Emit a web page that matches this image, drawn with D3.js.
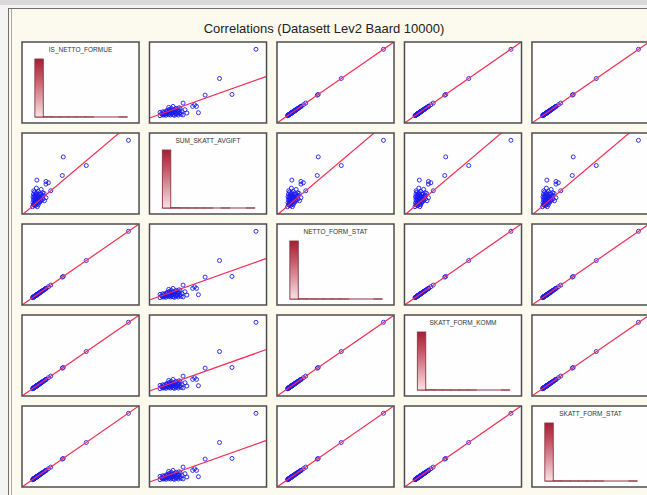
<!DOCTYPE html>
<html>
<head>
<meta charset="utf-8">
<script src="https://cdn.jsdelivr.net/npm/d3@7"></script>
<style>
  body { margin: 0; background: #efefef; }
  svg { display: block; font-family: Arial, 'Liberation Sans', sans-serif; }
</style>
</head>
<body>
<svg id="chart" width="647" height="495"></svg>
<script>
const title = 'Correlations (Datasett Lev2 Baard 10000)'
const variables = ['IS_NETTO_FORMUE', 'SUM_SKATT_AVGIFT', 'NETTO_FORM_STAT', 'SKATT_FORM_KOMM', 'SKATT_FORM_STAT']

// values in 1000 NOK, one entry per plotted point
const isNettoFormue = [48120, 27000, 15000, 15480, 2280, 9240, 8040, 6840, 6840, 4440,
  2040, 696, 6840, 4440, 1560, 1560, 2520, 2520, 3480, 3480,
  4440, 4440, 5400, 5400, 120, 600, 1080, 840, 1320, 1560,
  1800, 1080, 2040, 2280, 2520, 2760, 3000, 3240, 3720, 3960,
  4200, 4920, 5160, 5880, 3000, 360, 600, 1560, 2520, 6120,
  360, 840, 1320, 1800, 2040, 2280, 600, 1080, 2760, 3000,
  3480, 1560, 2040, 3240, 840, 2520]
const sumSkattAvgift = [3240, 2024, 1544, 2440, 1320, 808, 1192, 1128, 1256, 872,
  936, 808, 472, 360, 91, 261, 171, 341, 251, 421,
  334, 504, 414, 584, 40, 136, 200, 328, 424, 552,
  680, 744, 232, 488, 616, 392, 136, 552, 264, 456,
  648, 552, 712, 680, 776, 520, 648, 360, 40, 328,
  232, 488, 584, 296, 424, 712, 392, 104, 264, 520,
  648, 168, 616, 360, 168, 456]
const nettoFormStat = [48010, 26890, 14890, 15370, 2170, 9130, 7930, 6730, 6730, 4330,
  1930, 586, 6730, 4330, 1450, 1450, 2410, 2410, 3370, 3370,
  4330, 4330, 5290, 5290, 10, 490, 970, 730, 1210, 1450,
  1690, 970, 1930, 2170, 2410, 2650, 2890, 3130, 3610, 3850,
  4090, 4810, 5050, 5770, 2890, 250, 490, 1450, 2410, 6010,
  250, 730, 1210, 1690, 1930, 2170, 490, 970, 2650, 2890,
  3370, 1450, 1930, 3130, 730, 2410]
const skattFormKomm = [336.1, 188.2, 104.2, 107.6, 15.2, 63.9, 55.5, 47.1, 47.1, 30.3,
  13.5, 4.1, 47.1, 30.3, 10.2, 10.2, 16.9, 16.9, 23.6, 23.6,
  30.3, 30.3, 37.0, 37.0, 0.1, 3.4, 6.8, 5.1, 8.5, 10.2,
  11.8, 6.8, 13.5, 15.2, 16.9, 18.6, 20.2, 21.9, 25.3, 27.0,
  28.6, 33.7, 35.4, 40.4, 20.2, 1.8, 3.4, 10.2, 16.9, 42.1,
  1.8, 5.1, 8.5, 11.8, 13.5, 15.2, 3.4, 6.8, 18.6, 20.2,
  23.6, 10.2, 13.5, 21.9, 5.1, 16.9]
const skattFormStat = [192.0, 107.6, 59.6, 61.5, 8.7, 36.5, 31.7, 26.9, 26.9, 17.3,
  7.7, 2.3, 26.9, 17.3, 5.8, 5.8, 9.6, 9.6, 13.5, 13.5,
  17.3, 17.3, 21.2, 21.2, 0.0, 2.0, 3.9, 2.9, 4.8, 5.8,
  6.8, 3.9, 7.7, 8.7, 9.6, 10.6, 11.6, 12.5, 14.4, 15.4,
  16.4, 19.2, 20.2, 23.1, 11.6, 1.0, 2.0, 5.8, 9.6, 24.0,
  1.0, 2.9, 4.8, 6.8, 7.7, 8.7, 2.0, 3.9, 10.6, 11.6,
  13.5, 5.8, 7.7, 12.5, 2.9, 9.6]
// how many of the records each point stands for (used by the fit)
const pointWeight = [1, 1, 1, 1, 1, 1, 1, 1, 1, 1,
  1, 1, 1, 1, 990, 990, 990, 990, 990, 990,
  990, 990, 990, 990, 4, 4, 4, 4, 4, 4,
  4, 4, 3, 3, 3, 3, 3, 3, 3, 3,
  3, 3, 3, 3, 3, 3, 3, 3, 3, 3,
  1, 1, 1, 1, 1, 1, 1, 1, 1, 1,
  1, 1, 1, 1, 1, 1]

// histogram bin counts (11 bins, min..max) for the diagonal
const histIsNetto = [9962, 24, 6, 4, 1, 1, 1, 0, 0, 0, 1]
const histSumSkatt = [9948, 35, 9, 3, 2, 1, 0, 1, 0, 0, 1]
const histNettoStat = [9962, 24, 6, 4, 1, 1, 1, 0, 0, 0, 1]
const histKomm = [9963, 23, 6, 4, 1, 1, 1, 0, 0, 0, 1]
const histStat = [9963, 23, 6, 4, 1, 1, 1, 0, 0, 0, 1]

const columns = [isNettoFormue, sumSkattAvgift, nettoFormStat, skattFormKomm, skattFormStat]
const hists = [histIsNetto, histSumSkatt, histNettoStat, histKomm, histStat]

const svg = d3.select('#chart')

// window frame
svg.append('rect').attr('width', 647).attr('height', 495).attr('fill', '#f4f4f4')
svg.append('rect').attr('x', 0).attr('y', 0).attr('width', 647).attr('height', 5).attr('fill', '#d9d9d9')
svg.append('rect')
  .attr('x', 8.5).attr('y', 8.5).attr('width', 700).attr('height', 600)
  .attr('fill', '#fcf9ef').attr('stroke', '#6e6e6e')
svg.append('line')
  .attr('x1', 11.5).attr('x2', 11.5).attr('y1', 9).attr('y2', 495)
  .attr('stroke', '#a8a8a8')

svg.append('text')
  .attr('x', 324).attr('y', 33)
  .attr('text-anchor', 'middle')
  .attr('font-size', '13px')
  .attr('fill', '#222')
  .text(title)

const colBand = d3.scaleBand().domain(d3.range(5)).range([22, 649]).paddingInner(0.082)
const rowBand = d3.scaleBand().domain(d3.range(5)).range([42, 487]).paddingInner(0.11)
const cw = colBand.bandwidth()
const ch = rowBand.bandwidth()

// padded scales for each variable
const xScales = columns.map(vals => {
  const [lo, hi] = d3.extent(vals)
  const pad = (hi - lo) * 0.11
  return d3.scaleLinear().domain([lo - pad, hi + pad]).range([0, cw])
})
const yScales = columns.map(vals => {
  const [lo, hi] = d3.extent(vals)
  const pad = (hi - lo) * 0.11
  return d3.scaleLinear().domain([lo - pad, hi + pad]).range([ch, 0])
})

function weightedFit (xs, ys, ws) {
  const sw = d3.sum(ws)
  const mx = d3.sum(xs, (x, k) => x * ws[k]) / sw
  const my = d3.sum(ys, (y, k) => y * ws[k]) / sw
  let sxy = 0
  let sxx = 0
  xs.forEach((x, k) => {
    sxy += ws[k] * (x - mx) * (ys[k] - my)
    sxx += ws[k] * (x - mx) * (x - mx)
  })
  const slope = sxy / sxx
  return { slope, intercept: my - slope * mx }
}

const defs = svg.append('defs')
const grad = defs.append('linearGradient')
  .attr('id', 'barGrad').attr('x1', 0).attr('x2', 0).attr('y1', 0).attr('y2', 1)
grad.append('stop').attr('offset', '0%').attr('stop-color', '#a51f33')
grad.append('stop').attr('offset', '35%').attr('stop-color', '#c65a6a')
grad.append('stop').attr('offset', '100%').attr('stop-color', '#f6e3e6')

defs.append('clipPath').attr('id', 'cellClip')
  .append('rect').attr('width', cw).attr('height', ch)

const pointIdx = d3.range(isNettoFormue.length)

for (let i = 0; i < 5; i++) {
  for (let j = 0; j < 5; j++) {
    const cell = svg.append('g')
      .attr('transform', 'translate(' + colBand(j) + ',' + rowBand(i) + ')')

    cell.append('rect')
      .attr('width', cw).attr('height', ch)
      .attr('fill', '#fefefe')

    if (i === j) {
      const counts = hists[i]
      const bx = d3.scaleBand().domain(d3.range(counts.length)).range([cw * 0.11, cw * 0.9])
      const by = d3.scaleLinear().domain([0, d3.max(counts)]).range([ch - 6, 17])

      cell.append('text')
        .attr('x', cw / 2).attr('y', 10)
        .attr('text-anchor', 'middle')
        .attr('font-size', '6.5px')
        .attr('fill', '#333')
        .text(variables[i])

      // baseline under the bins
      cell.append('line')
        .attr('x1', bx.range()[0]).attr('x2', bx.range()[1])
        .attr('y1', by(0)).attr('y2', by(0))
        .attr('stroke', '#8a3640')
        .attr('stroke-width', 1)

      cell.selectAll('.bin')
        .data(counts)
        .enter()
        .append('rect')
        .attr('class', 'bin')
        .attr('x', (d, k) => bx(k))
        .attr('y', d => by(d))
        .attr('width', bx.bandwidth())
        .attr('height', d => by(0) - by(d))
        .attr('fill', 'url(#barGrad)')
        .attr('stroke', '#8a3640')
        .attr('stroke-width', 0.9)
    } else {
      const xs = columns[j]
      const ys = columns[i]
      const x = xScales[j]
      const y = yScales[i]
      const plot = cell.append('g').attr('clip-path', 'url(#cellClip)')

      plot.selectAll('circle')
        .data(pointIdx)
        .enter()
        .append('circle')
        .attr('cx', k => x(xs[k]))
        .attr('cy', k => y(ys[k]))
        .attr('r', 2)
        .attr('fill', 'none')
        .attr('stroke', '#1c1cf0')
        .attr('stroke-width', 0.9)

      const f = weightedFit(xs, ys, pointWeight)
      const [x0, x1] = x.domain()
      plot.append('line')
        .attr('x1', x(x0)).attr('y1', y(f.intercept + f.slope * x0))
        .attr('x2', x(x1)).attr('y2', y(f.intercept + f.slope * x1))
        .attr('stroke', '#f52c52')
        .attr('stroke-width', 1.2)
    }

    cell.append('rect')
      .attr('width', cw).attr('height', ch)
      .attr('fill', 'none')
      .attr('stroke', '#4d4d4d')
      .attr('stroke-width', 1.5)
  }
}
</script>
</body>
</html>
